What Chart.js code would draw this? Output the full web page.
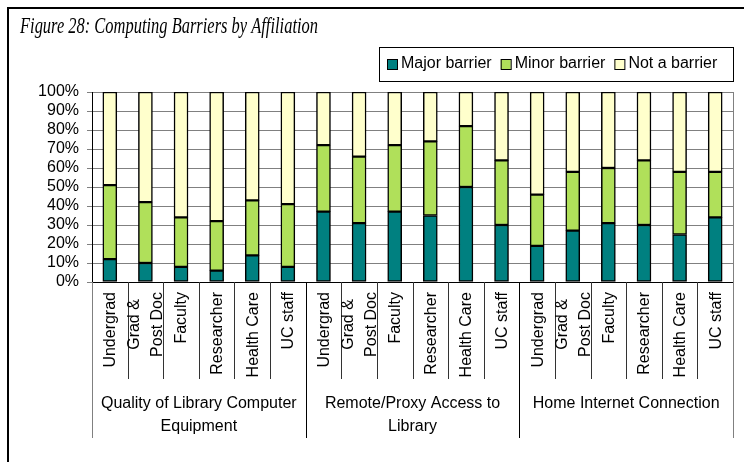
<!DOCTYPE html>
<html>
<head>
<meta charset="utf-8">
<script src="https://cdn.jsdelivr.net/npm/chart.js@4"></script>
<style>
  body { margin: 0; background: #fff; }
  #wrap { width: 744px; height: 462px; }
</style>
</head>
<body>
<div id="wrap"><canvas id="barriers-chart" width="744" height="462"></canvas></div>
<script>
// Chart data (percent of respondents)
const affiliations = ['Undergrad', ['Grad &', 'Post Doc'], 'Faculty', 'Researcher', 'Health Care', 'UC staff'];
const groups = [
    ['Quality of Library Computer', 'Equipment'],
    ['Remote/Proxy Access to', 'Library'],
    ['Home Internet Connection']
];
const seriesNames = ['Major barrier', 'Minor barrier', 'Not a barrier'];
const majorBarrier = [12, 10, 8, 6, 14, 8, 37, 31, 37, 35, 50, 30, 19, 27, 31, 30, 25, 34];
const minorBarrier = [39, 32, 26, 26, 29, 33, 35, 35, 35, 39, 32, 34, 27, 31, 29, 34, 33, 24];
const notBarrier = [49, 58, 66, 68, 57, 59, 28, 34, 28, 26, 18, 36, 54, 42, 40, 36, 42, 42];
const yTicks = [0, 10, 20, 30, 40, 50, 60, 70, 80, 90, 100];

const colors = ['#008080', '#B0E05A', '#FFFFCC'];
const titleText = 'Figure 28: Computing Barriers by Affiliation';
const sansFont = '"Liberation Sans", Arial, sans-serif';

// one label per bar, the six affiliations repeated per group
const categories = [];
groups.forEach(() => affiliations.forEach(a => categories.push(a)));

// Draws the page frame, the title and the boxed legend
const framePlugin = {
    id: 'frame',
    afterDraw(chart) {
        const ctx = chart.ctx;
        ctx.save();
        ctx.strokeStyle = '#000';
        ctx.lineWidth = 2;
        ctx.beginPath();
        ctx.moveTo(8, 462);
        ctx.lineTo(8, 8);
        ctx.lineTo(744, 8);
        ctx.stroke();

        // title, squeezed to the width of the original Garamond
        ctx.font = 'italic 24px "Liberation Serif", "Times New Roman", serif';
        ctx.fillStyle = '#000';
        ctx.textBaseline = 'alphabetic';
        const w = ctx.measureText(titleText).width;
        ctx.save();
        ctx.translate(20, 33);
        ctx.scale(298 / w, 1);
        ctx.fillText(titleText, 0, 0);
        ctx.restore();

        // legend box
        ctx.lineWidth = 1;
        ctx.strokeRect(379.5, 47.5, 354, 34);
        ctx.font = '16px ' + sansFont;
        ctx.textBaseline = 'middle';
        let x = 387;
        chart.data.datasets.forEach((ds, i) => {
            ctx.fillStyle = ds.backgroundColor;
            ctx.fillRect(x, 59, 10, 10);
            ctx.strokeStyle = '#000';
            ctx.strokeRect(x + 0.5, 59.5, 10, 10);
            ctx.fillStyle = '#000';
            ctx.fillText(ds.label, x + 14, 64);
            x += 14 + ctx.measureText(ds.label).width + 9;
        });
        ctx.restore();
    }
};

// Draws the rotated category labels, the separators and the group labels under the x axis
const groupAxisPlugin = {
    id: 'groupAxis',
    afterDraw(chart) {
        const ctx = chart.ctx;
        const xScale = chart.scales.x;
        const area = chart.chartArea;
        const n = categories.length;
        const per = affiliations.length;
        const edge = i => {
            if (i === 0) return area.left;
            if (i === n) return area.right;
            return (xScale.getPixelForValue(i - 1) + xScale.getPixelForValue(i)) / 2;
        };
        ctx.save();
        ctx.lineWidth = 1;
        for (let i = 0; i <= n; i++) {
            const x = Math.round(edge(i)) + 0.5;
            const isGroup = i % per === 0;
            ctx.strokeStyle = (i === 0 || i === n) ? '#808080' : (isGroup ? '#000' : '#333');
            ctx.beginPath();
            ctx.moveTo(x, area.bottom);
            ctx.lineTo(x, area.bottom + (isGroup ? 156 : 97));
            ctx.stroke();
        }
        // right border of the plot area
        ctx.strokeStyle = '#808080';
        ctx.beginPath();
        ctx.moveTo(Math.round(area.right) + 0.5, area.top);
        ctx.lineTo(Math.round(area.right) + 0.5, area.bottom);
        ctx.stroke();

        ctx.fillStyle = '#000';
        ctx.font = '16px ' + sansFont;
        ctx.textBaseline = 'middle';

        // category labels: read upwards, block ends just under the axis, lines centred
        const lh = 23;
        xScale.getLabels().forEach((label, i) => {
            const lines = Array.isArray(label) ? label : [label];
            const maxW = Math.max(...lines.map(l => ctx.measureText(l).width));
            ctx.save();
            ctx.translate(xScale.getPixelForValue(i), area.bottom + 10);
            ctx.rotate(-Math.PI / 2);
            ctx.textAlign = 'center';
            lines.forEach((line, j) => {
                ctx.fillText(line, -maxW / 2, (j - (lines.length - 1) / 2) * lh + 1);
            });
            ctx.restore();
        });

        ctx.textAlign = 'center';
        groups.forEach((lines, g) => {
            const cx = (edge(g * per) + edge((g + 1) * per)) / 2;
            lines.forEach((line, j) => {
                ctx.fillText(line, cx, area.bottom + 122 + j * 23);
            });
        });
        ctx.restore();
    }
};

const ctx = document.getElementById('barriers-chart').getContext('2d');
new Chart(ctx, {
    type: 'bar',
    data: {
        labels: categories,
        datasets: [
            { label: seriesNames[0], data: majorBarrier, backgroundColor: colors[0] },
            { label: seriesNames[1], data: minorBarrier, backgroundColor: colors[1] },
            { label: seriesNames[2], data: notBarrier, backgroundColor: colors[2] }
        ].map(ds => Object.assign(ds, {
            borderColor: '#000',
            borderWidth: 1.5,
            borderSkipped: false,
            barThickness: 14
        }))
    },
    options: {
        responsive: false,
        animation: false,
        layout: { padding: { top: 92, left: 0, right: 11, bottom: 0 } },
        plugins: {
            legend: { display: false },
            title: { display: false },
            tooltip: { enabled: false }
        },
        scales: {
            x: {
                stacked: true,
                afterFit: scale => { scale.height = 180; },
                grid: { display: false },
                border: { display: true, color: '#000', width: 1 },
                ticks: { display: false, autoSkip: false }
            },
            y: {
                stacked: true,
                min: 0,
                max: 100,
                afterFit: scale => { scale.width = 92; },
                afterBuildTicks: scale => {
                    scale.ticks = yTicks.map(v => ({ value: v }));
                },
                grid: { color: '#808080', lineWidth: 1, tickLength: 5 },
                border: { display: true, color: '#000', width: 1 },
                ticks: {
                    autoSkip: false,
                    padding: 8,
                    color: '#000',
                    font: { family: sansFont, size: 16 },
                    callback: v => v + '%'
                }
            }
        }
    },
    plugins: [framePlugin, groupAxisPlugin]
});
</script>
</body>
</html>
